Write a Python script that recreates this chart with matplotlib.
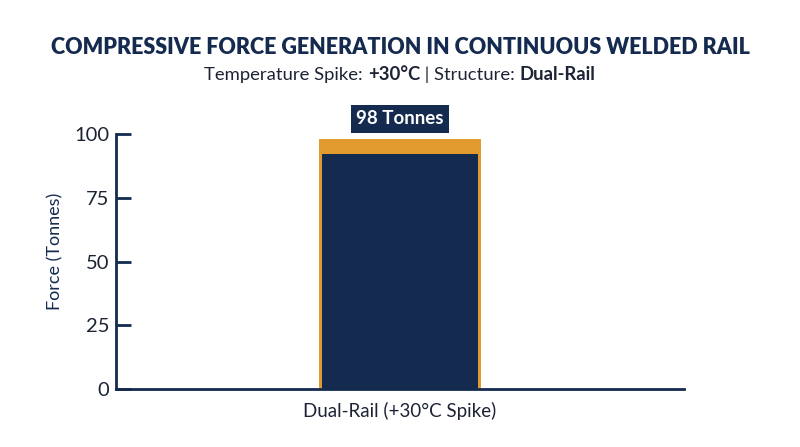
import matplotlib
matplotlib.use('Agg')
import matplotlib.pyplot as plt

plt.rcParams['font.family'] = ['Lato', 'DejaVu Sans']

navy = '#142a4f'
orange = '#e29b2f'
text_col = '#1c2434'

categories = ['Dual-Rail (+30°C Spike)']
total_force = [98]
inner_force = [92]
bar_label = '98 Tonnes'
yticks = [0, 25, 50, 75, 100]

fig = plt.figure(figsize=(8, 4.47), dpi=100)
ax = fig.add_axes([116/800, 1-389/447, 568/800, 255/447])

x = range(len(categories))
ax.bar(x, total_force, width=0.57, color=orange, zorder=2)
ax.bar(x, inner_force, width=0.55, color=navy, zorder=3)

ax.set_xlim(-1, 1)
ax.set_ylim(0, 100)
ax.set_yticks(yticks)
ax.set_xticks(list(x))
ax.set_xticklabels(categories, fontsize=13.5, color=text_col)
ax.tick_params(axis='x', length=0, pad=9)
ax.tick_params(axis='y', direction='in', length=11, width=2, color=navy,
               labelsize=14.5, labelcolor=text_col, pad=5)
ax.set_ylabel('Force (Tonnes)', fontsize=13, color=navy)
ax.yaxis.set_label_coords(-0.092, 0.54)

for s in ['top', 'right']:
    ax.spines[s].set_visible(False)
for s in ['left', 'bottom']:
    ax.spines[s].set_color(navy)
    ax.spines[s].set_linewidth(2)

for xi, v in zip(x, total_force):
    ax.text(xi, v + 8, bar_label, ha='center', va='center', fontsize=13.5, fontweight='bold',
            color='white', clip_on=False,
            bbox=dict(boxstyle='square,pad=0.3', fc=navy, ec='none'))

fig.text(0.5, 1-47/447, 'COMPRESSIVE FORCE GENERATION IN CONTINUOUS WELDED RAIL',
         ha='center', va='center', fontsize=15.5, fontweight='heavy', color=navy)

# subtitle with mixed weights
parts = [('Temperature Spike: ', 'normal'), ('+30°C', 'bold'),
         (' | Structure: ', 'normal'), ('Dual-Rail', 'bold')]
fig.canvas.draw()
r = fig.canvas.get_renderer()
texts = []
widths = []
for s, w in parts:
    t = fig.text(0, 1-75/447, s, ha='left', va='center', fontsize=13.3, fontweight=w, color=text_col)
    bb = t.get_window_extent(renderer=r)
    texts.append(t)
    widths.append(bb.width)
start = (800 - sum(widths)) / 2
for t, wd in zip(texts, widths):
    t.set_x(start / 800)
    start += wd

fig.savefig('out.png', dpi=100)
